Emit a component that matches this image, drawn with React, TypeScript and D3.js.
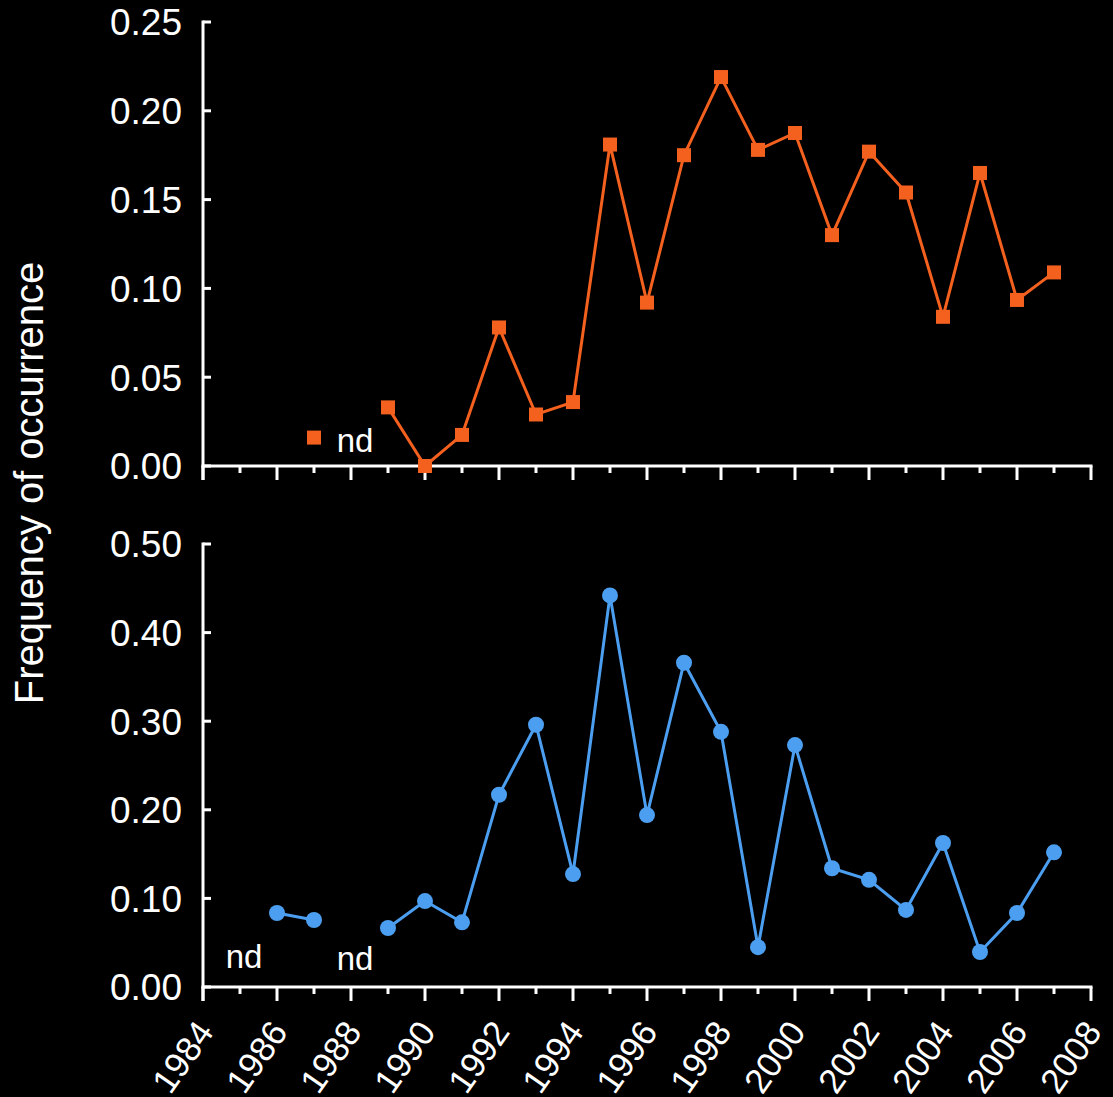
import React, { useEffect, useRef } from "react";
import * as d3 from "d3";

// top panel (orange squares)
const topYears = [1989, 1990, 1991, 1992, 1993, 1994, 1995, 1996, 1997, 1998, 1999, 2000, 2001, 2002, 2003, 2004, 2005, 2006, 2007];
const topValues = [0.033, 0.0, 0.0175, 0.078, 0.029, 0.036, 0.181, 0.092, 0.175, 0.219, 0.178, 0.1875, 0.130, 0.177, 0.154, 0.084, 0.165, 0.0935, 0.109];
const topLoneYear = 1987;
const topLoneValue = 0.016;
const topNdYears = [1988];

// bottom panel (blue circles)
const bottomSegA_years = [1986, 1987];
const bottomSegA_values = [0.0835, 0.0756];
const bottomSegB_years = [1989, 1990, 1991, 1992, 1993, 1994, 1995, 1996, 1997, 1998, 1999, 2000, 2001, 2002, 2003, 2004, 2005, 2006, 2007];
const bottomSegB_values = [0.0666, 0.097, 0.073, 0.217, 0.296, 0.1275, 0.442, 0.194, 0.366, 0.288, 0.045, 0.273, 0.134, 0.121, 0.087, 0.1625, 0.0395, 0.0835, 0.152];
const bottomNdYears = [1985, 1988];

const topTicks = [0, 0.05, 0.1, 0.15, 0.2, 0.25];
const bottomTicks = [0, 0.1, 0.2, 0.3, 0.4, 0.5];
const yearTicks = d3.range(1984, 2009);

const ORANGE = "#f4611f";
const BLUE = "#4c9ff0";
const FONT = "'Liberation Sans', Arial, sans-serif";

export default function App() {
  const ref = useRef<SVGSVGElement>(null);

  useEffect(() => {
    const svg = d3.select(ref.current);
    svg.selectAll("*").remove();

    const x = d3.scaleLinear().domain([1984, 2008]).range([203, 1091]);
    const yTop = d3.scaleLinear().domain([0, 0.25]).range([466, 22]);
    const yBot = d3.scaleLinear().domain([0, 0.5]).range([987, 544]);

    const drawFrame = (y: d3.ScaleLinear<number, number>, ticks: number[], showLabels: boolean) => {
      const g = svg.append("g");
      const y0 = y(0);
      // y axis line
      g.append("line").attr("x1", x(1984)).attr("x2", x(1984))
        .attr("y1", y(ticks[ticks.length - 1]) - 1.5).attr("y2", y0 + 14)
        .attr("stroke", "#fff").attr("stroke-width", 3);
      // y ticks point inward
      g.selectAll(".yt").data(ticks).join("line")
        .attr("x1", x(1984)).attr("x2", x(1984) + 8)
        .attr("y1", d => y(d)).attr("y2", d => y(d))
        .attr("stroke", "#fff").attr("stroke-width", 3);
      g.selectAll(".yl").data(ticks).join("text")
        .attr("x", 182).attr("y", d => y(d)).attr("dy", "0.36em")
        .attr("text-anchor", "end").attr("fill", "#fff")
        .attr("font-family", FONT).attr("font-size", 37)
        .text(d => d3.format(".2f")(d));
      // x axis line
      g.append("line").attr("x1", x(1984) - 1.5).attr("x2", x(2008) + 1.5)
        .attr("y1", y0).attr("y2", y0).attr("stroke", "#fff").attr("stroke-width", 3);
      g.selectAll(".xt").data(yearTicks).join("line")
        .attr("x1", d => x(d)).attr("x2", d => x(d))
        .attr("y1", y0).attr("y2", d => y0 + (d % 2 === 0 ? 14 : 7))
        .attr("stroke", "#fff").attr("stroke-width", 3);
      if (showLabels) {
        g.selectAll(".xl").data(yearTicks.filter(d => d % 2 === 0)).join("text")
          .attr("transform", d => `translate(${x(d) + 12},${y0 + 45}) rotate(-55)`)
          .attr("text-anchor", "end")
          .attr("fill", "#fff").attr("font-family", FONT).attr("font-size", 35)
          .text(d => d);
      }
    };

    drawFrame(yTop, topTicks, false);
    drawFrame(yBot, bottomTicks, true);

    // top series
    const lineTop = d3.line<number>().x((d, i) => x(topYears[i])).y(d => yTop(d));
    svg.append("path").attr("d", lineTop(topValues)).attr("fill", "none")
      .attr("stroke", ORANGE).attr("stroke-width", 3);
    const sq = 14;
    svg.selectAll(".sq").data(topValues.map((v, i) => [topYears[i], v]).concat([[topLoneYear, topLoneValue]]))
      .join("rect")
      .attr("x", d => x(d[0]) - sq / 2).attr("y", d => yTop(d[1]) - sq / 2)
      .attr("width", sq).attr("height", sq).attr("fill", ORANGE);
    svg.selectAll(".ndt").data(topNdYears).join("text")
      .attr("x", d => x(d) + 4).attr("y", yTop(0) - 14)
      .attr("text-anchor", "middle").attr("fill", "#fff")
      .attr("font-family", FONT).attr("font-size", 33).text("nd");

    // bottom series
    const segs: [number[], number[]][] = [[bottomSegA_years, bottomSegA_values], [bottomSegB_years, bottomSegB_values]];
    segs.forEach(([yrs, vals]) => {
      const ln = d3.line<number>().x((d, i) => x(yrs[i])).y(d => yBot(d));
      svg.append("path").attr("d", ln(vals)).attr("fill", "none")
        .attr("stroke", BLUE).attr("stroke-width", 3);
      svg.append("g").selectAll("circle").data(vals).join("circle")
        .attr("cx", (d, i) => x(yrs[i])).attr("cy", d => yBot(d))
        .attr("r", 8).attr("fill", BLUE);
    });
    svg.selectAll(".ndb").data(bottomNdYears).join("text")
      .attr("x", d => x(d) + 4).attr("y", (d, i) => yBot(0) - (i === 0 ? 19 : 17))
      .attr("text-anchor", "middle").attr("fill", "#fff")
      .attr("font-family", FONT).attr("font-size", 33).text("nd");

    // y title
    svg.append("text")
      .attr("transform", "translate(43,483) rotate(-90)")
      .attr("text-anchor", "middle").attr("fill", "#fff")
      .attr("font-family", FONT).attr("font-size", 40)
      .text("Frequency of occurrence");
  }, []);

  return (
    <svg ref={ref} width={1113} height={1097}
      style={{ position: "absolute", left: 0, top: 0, background: "#000", display: "block" }} />
  );
}
